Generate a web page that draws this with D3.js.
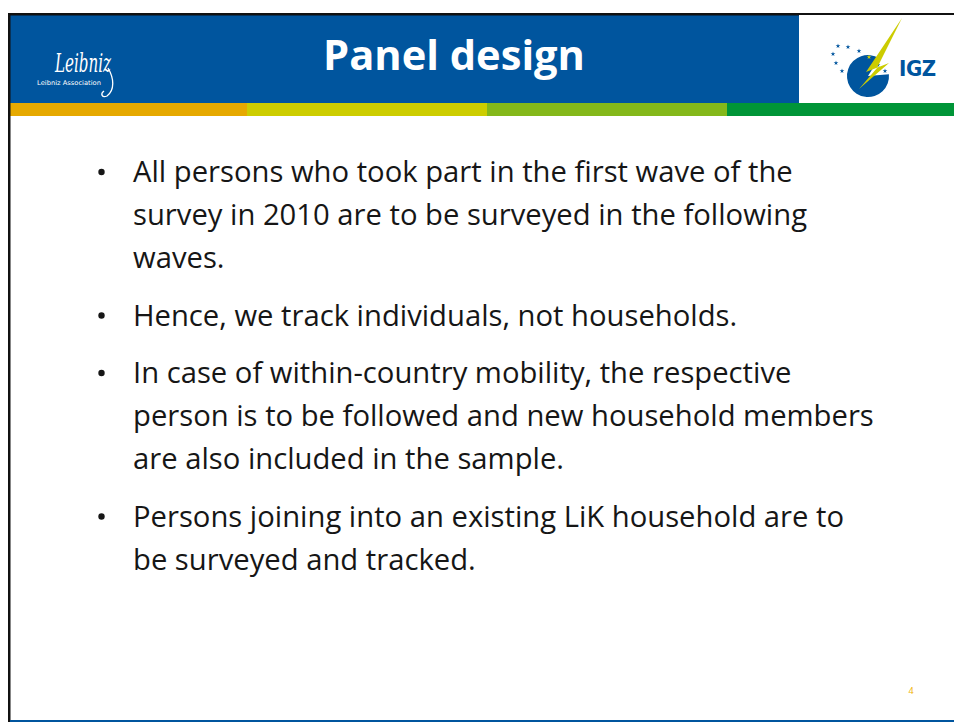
<!DOCTYPE html>
<html>
<head>
<meta charset="utf-8">
<script src="https://cdn.jsdelivr.net/npm/d3@7"></script>
<style>
  html, body { margin: 0; padding: 0; background: #fff; }
  svg { display: block; }
</style>
</head>
<body>
<div id="slide"></div>
<script>
// Slide content
var slideTitle = "Panel design";
var pageNumber = "4";

// Bullet points, one array of wrapped lines per bullet
var bullets = [
  ["All persons who took part in the first wave of the",
   "survey in 2010 are to be surveyed in the following",
   "waves."],
  ["Hence, we track individuals, not households."],
  ["In case of within-country mobility, the respective",
   "person is to be followed and new household members",
   "are also included in the sample."],
  ["Persons joining into an existing LiK household are to",
   "be surveyed and tracked."]
];

// Colour strip under the header
var stripColors = ["#e6a900", "#cdcd00", "#84b81a", "#009538"];

// Star positions of the IGZ logo (logo-local units)
var starBlue = [[-30, -30], [-20, -29], [-9, -25], [-35, -22], [-32, -13], [-26, -5], [10, -11], [17, -5]];
var starYellow = [[1, -19]];

var width = 954, height = 722;
var blue = "#00559e";

var svg = d3.select("#slide")
  .append("svg")
  .attr("width", width)
  .attr("height", height);

// Header band
svg.append("rect")
  .attr("x", 10).attr("y", 15)
  .attr("width", width - 10).attr("height", 88)
  .attr("fill", blue);

// Colour strip, four equal segments
var stripScale = d3.scaleLinear().domain([0, 4]).range([7, 967]);
svg.append("g").selectAll("rect")
  .data(stripColors)
  .join("rect")
  .attr("x", (d, i) => Math.max(10, stripScale(i)))
  .attr("y", 103)
  .attr("width", (d, i) => stripScale(i + 1) - Math.max(10, stripScale(i)))
  .attr("height", 13)
  .attr("fill", d => d);

// Slide frame
svg.append("rect").attr("x", 8).attr("y", 13).attr("width", width - 8).attr("height", 2.5).attr("fill", "#111");
svg.append("rect").attr("x", 8).attr("y", 13).attr("width", 2.5).attr("height", height - 13).attr("fill", "#111");
svg.append("rect").attr("x", 10).attr("y", 720).attr("width", width - 10).attr("height", 2).attr("fill", blue);

// Title
var title = svg.append("text")
  .attr("x", 454).attr("y", 70)
  .attr("text-anchor", "middle")
  .attr("font-family", "'Open Sans', 'Noto Sans', sans-serif")
  .attr("font-weight", "bold")
  .attr("font-size", 42)
  .attr("fill", "#fff")
  .text(slideTitle);
var tw = title.node().getComputedTextLength();
title.attr("font-size", 42 * 262 / tw);

// Leibniz logo (approximation of the signature)
var leib = svg.append("g").attr("fill", "#fff");
leib.append("text")
  .attr("x", 55).attr("y", 72)
  .attr("font-family", "'DejaVu Serif', serif")
  .attr("font-style", "italic")
  .attr("font-size", 26)
  .attr("textLength", 56)
  .attr("lengthAdjust", "spacingAndGlyphs")
  .text("Leibniz");
leib.append("text")
  .attr("x", 37).attr("y", 85)
  .attr("font-family", "'DejaVu Sans', sans-serif")
  .attr("font-size", 6.5)
  .attr("textLength", 64)
  .attr("lengthAdjust", "spacingAndGlyphs")
  .text("Leibniz Association");
leib.append("path")
  .attr("d", "M108,68 C114,78 115,90 107,96 C102,98 100,94 104,91")
  .attr("fill", "none")
  .attr("stroke", "#fff")
  .attr("stroke-width", 1.3);

// IGZ logo
svg.append("rect")
  .attr("x", 799).attr("y", 15)
  .attr("width", width - 799).attr("height", 88)
  .attr("fill", "#fff");

var igz = svg.append("g").attr("transform", "translate(868,76)");
var arc = d3.arc().innerRadius(0).outerRadius(21);
igz.append("path")
  .attr("d", arc({ startAngle: 85 * Math.PI / 180, endAngle: (360 + 32) * Math.PI / 180 }))
  .attr("fill", blue);

var starPath = d3.symbol().type(d3.symbolStar).size(7);
igz.selectAll(".sb").data(starBlue).join("path")
  .attr("class", "sb")
  .attr("transform", d => `translate(${d[0]},${d[1]})`)
  .attr("d", starPath)
  .attr("fill", blue);
igz.selectAll(".sy").data(starYellow).join("path")
  .attr("class", "sy")
  .attr("transform", d => `translate(${d[0]},${d[1]})`)
  .attr("d", starPath)
  .attr("fill", "#d4d400");

// lightning bolt
igz.append("path")
  .attr("d", d3.line()([[34, -58], [-2, -4], [21, -13], [-9, 13], [9, -8], [12, -14]]) + "Z")
  .attr("fill", "#cccc00");

svg.append("text")
  .attr("x", 899).attr("y", 76)
  .attr("font-family", "'Liberation Sans Narrow', 'DejaVu Sans Condensed', sans-serif")
  .attr("font-weight", 600)
  .attr("font-size", 22)
  .attr("textLength", 37)
  .attr("lengthAdjust", "spacing")
  .attr("fill", blue)
  .text("IGZ");

// Body text
var body = svg.append("g")
  .attr("font-family", "'Open Sans', 'Noto Sans', sans-serif")
  .attr("fill", "#161616");

// fit font size to the longest line
var probe = body.append("text").attr("font-size", 28).text(bullets[2][1]);
var fontSize = 28 * 741 / probe.node().getComputedTextLength();
probe.remove();

var lineStep = 43, paraGap = 14.5;
var y = 182;
bullets.forEach(function(lines) {
  body.append("circle")
    .attr("cx", 101.5).attr("cy", y - 10)
    .attr("r", 3.2);
  lines.forEach(function(line) {
    body.append("text")
      .attr("x", 133).attr("y", y)
      .attr("font-size", fontSize)
      .text(line);
    y += lineStep;
  });
  y += paraGap;
});

// Page number
svg.append("text")
  .attr("x", 911).attr("y", 694)
  .attr("text-anchor", "middle")
  .attr("font-family", "'Open Sans', sans-serif")
  .attr("font-size", 9)
  .attr("fill", "#f0b000")
  .text(pageNumber);
</script>
</body>
</html>
